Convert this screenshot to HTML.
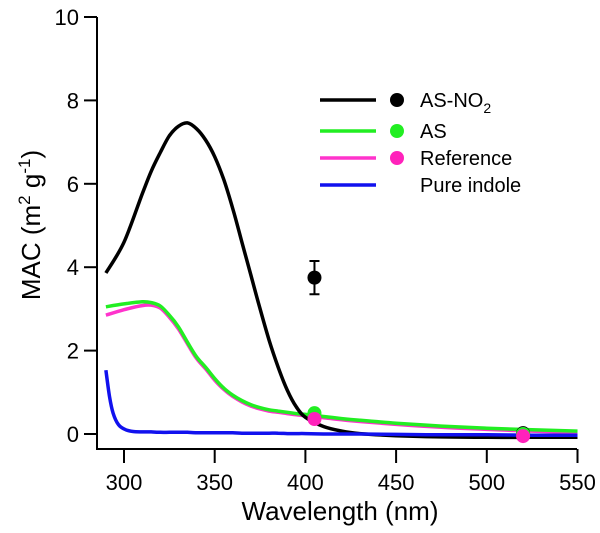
<!DOCTYPE html>
<html><head><meta charset="utf-8"><style>
body{margin:0;background:#fff;}
svg{font-family:"Liberation Sans",sans-serif;}
</style></head><body>
<svg id="c" width="600" height="528"></svg>
<script>
const wl=[290,300,310,315,320,325,330,335,340,345,350,355,360,365,370,375,380,385,390,395,400,410,420,430,450,475,500,525,550];
const asno2=[3.86,4.6,5.75,6.3,6.75,7.15,7.38,7.46,7.32,7.05,6.65,6.1,5.4,4.6,3.8,3.0,2.25,1.6,1.05,0.65,0.4,0.18,0.07,0.01,-0.04,-0.07,-0.08,-0.08,-0.08];
const asv=[3.05,3.12,3.17,3.15,3.07,2.85,2.57,2.2,1.85,1.6,1.33,1.1,0.93,0.8,0.7,0.63,0.58,0.55,0.52,0.49,0.47,0.42,0.37,0.33,0.26,0.19,0.14,0.1,0.07];
const refv=[2.85,2.98,3.08,3.09,3.02,2.8,2.52,2.16,1.81,1.56,1.29,1.07,0.9,0.77,0.67,0.6,0.55,0.52,0.49,0.46,0.44,0.39,0.34,0.3,0.23,0.16,0.11,0.07,0.04];
const pure=[1.53,0.1,0.05,0.05,0.04,0.04,0.04,0.04,0.03,0.03,0.03,0.03,0.03,0.02,0.02,0.02,0.02,0.02,0.01,0.01,0.01,0.0,0.0,0.0,-0.01,-0.02,-0.02,-0.03,-0.03];
const pureHead=[[290,1.53],[292,0.9],[294,0.5],[297,0.22],[301,0.1],[305,0.06]];
const ptWl=[405,520];
const ptNO2=[3.75,0.02];
const ptNO2Err=[0.4,0];
const ptAS=[0.5,0.0];
const ptRef=[0.36,-0.05];
const xTicks=[300,350,400,450,500,550];
const yTicks=[0,2,4,6,8,10];
const NS="http://www.w3.org/2000/svg";
const svg=document.getElementById('c');
const X=v=>124+(v-300)*90.7/50;
const Y=v=>434-v*41.7;
function mk(t,a,txt){const e=document.createElementNS(NS,t);for(const k in a)e.setAttribute(k,a[k]);if(txt!==undefined)e.textContent=txt;svg.appendChild(e);return e;}
let e;
e=mk('path',{d:`M97 ${Y(10)} V449 H577`,fill:'none',stroke:'#000','stroke-width':2});


yTicks.forEach(t=>{mk('line',{x1:84,x2:97,y1:Y(t),y2:Y(t),stroke:'#000','stroke-width':2});
e=mk('text',{x:79,y:Y(t)+8,'text-anchor':'end','font-size':22},t);

});
xTicks.forEach(t=>{mk('line',{x1:X(t),x2:X(t),y1:449,y2:463,stroke:'#000','stroke-width':2});
e=mk('text',{x:X(t),y:490,'text-anchor':'middle','font-size':22},t);

});
e=mk('text',{x:340,y:520,'text-anchor':'middle','font-size':26},'Wavelength (nm)');


e=mk('text',{x:0,y:0,'text-anchor':'middle','font-size':26,transform:'translate(40,225) rotate(-90)'});
e.innerHTML='MAC (m<tspan dy="-10" font-size="17">2</tspan><tspan dy="10"> g</tspan><tspan dy="-10" font-size="17">-1</tspan><tspan dy="10">)</tspan>';


function line(pts,col,name){const P=pts.map(p=>[X(p[0]),Y(p[1])]);
let d='M'+P[0][0].toFixed(1)+' '+P[0][1].toFixed(1);
for(let i=0;i<P.length-1;i++){const p0=P[Math.max(0,i-1)],p1=P[i],p2=P[i+1],p3=P[Math.min(P.length-1,i+2)];
const c1=[p1[0]+(p2[0]-p0[0])/6,p1[1]+(p2[1]-p0[1])/6],c2=[p2[0]-(p3[0]-p1[0])/6,p2[1]-(p3[1]-p1[1])/6];
d+=` C${c1[0].toFixed(1)} ${c1[1].toFixed(1)} ${c2[0].toFixed(1)} ${c2[1].toFixed(1)} ${p2[0].toFixed(1)} ${p2[1].toFixed(1)}`;}
const p=mk('path',{d,fill:'none',stroke:col,'stroke-width':3.5,'stroke-linejoin':'round'});

}
const zip=a=>a.map((v,i)=>[wl[i],v]);
line(zip(refv),'#ff33cc','reference-line');
line(zip(asv),'#22ee22','as-line');
line(zip(asno2),'#000','as-no2-line');
line(pureHead.concat(zip(pure).slice(2)),'#1111ee','pure-indole-line');
ptWl.forEach((w,i)=>{if(ptNO2Err[i]>0){mk('path',{d:`M${X(w)} ${Y(ptNO2[i]-ptNO2Err[i])} V${Y(ptNO2[i]+ptNO2Err[i])} M${X(w)-5} ${Y(ptNO2[i]-ptNO2Err[i])} h10 M${X(w)-5} ${Y(ptNO2[i]+ptNO2Err[i])} h10`,stroke:'#000','stroke-width':2});}
e=mk('circle',{cx:X(w),cy:Y(ptNO2[i]),r:7,fill:'#000'});


e=mk('circle',{cx:X(w),cy:Y(ptAS[i]),r:7,fill:'#22ee22'});


e=mk('circle',{cx:X(w),cy:Y(ptRef[i]),r:7,fill:'#ff22bb'});

});
const leg=[['#000','AS-NO',100,true],['#22ee22','AS',131,true],['#ff33cc','Reference',158,true],['#1111ee','Pure indole',185,false]];
leg.forEach(l=>{mk('line',{x1:320,x2:376,y1:l[2],y2:l[2],stroke:l[0],'stroke-width':3.5});
if(l[3]){mk('circle',{cx:397,cy:l[2],r:7,fill:l[0]=='#ff33cc'?'#ff22bb':l[0]});}
e=mk('text',{x:420,y:l[2]+7,'font-size':20},l[1]);
if(l[1]=='AS-NO'){e.innerHTML='AS-NO<tspan dy="6" font-size="14">2</tspan>';}

});
</script>
</body></html>
